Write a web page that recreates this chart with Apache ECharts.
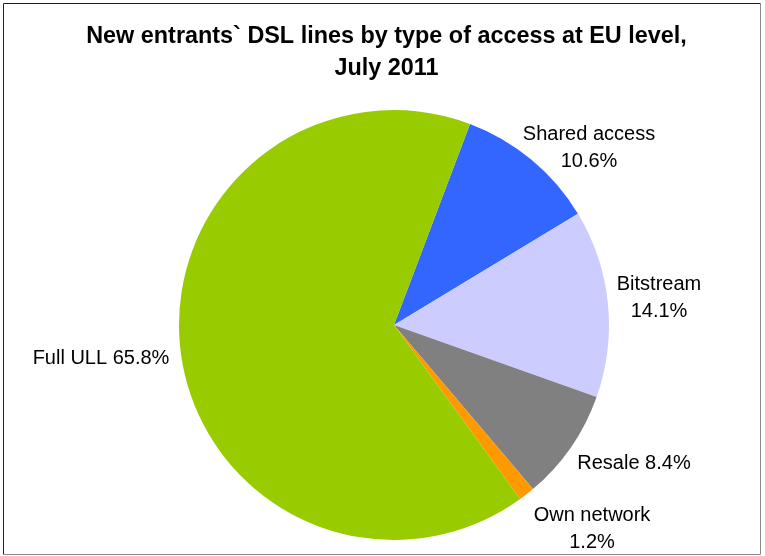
<!DOCTYPE html>
<html>
<head>
<meta charset="utf-8">
<script src="https://cdn.jsdelivr.net/npm/echarts@6/dist/echarts.min.js"></script>
<style>
  html, body { margin: 0; padding: 0; background: #fff; }
  #chart { width: 765px; height: 556px; }
</style>
</head>
<body>
<div id="chart"></div>
<script>
// Access types, clockwise from the top of the pie
const categories = ['Shared access', 'Bitstream', 'Resale', 'Own network', 'Full ULL'];
// Share of new entrants' DSL lines (%)
const shares = [10.6, 14.1, 8.4, 1.2, 65.8];
// Whether the label puts the percentage on its own line
const labelTwoLines = [true, true, false, true, false];
const sliceColors = ['#3366FF', '#CCCCFF', '#808080', '#FF9900', '#99CC00'];

// Label anchor points (block centres), in pixels
const labelAnchors = [
  [589, 148],
  [659, 298],
  [634, 463],
  [592, 529],
  [101, 358]
];

const chart = echarts.init(document.getElementById('chart'), null, { renderer: 'canvas' });

chart.setOption({
  backgroundColor: '#ffffff',
  animation: false,
  title: {
    text: 'New entrants` DSL lines by type of access at EU level,\nJuly 2011',
    left: 386.5,
    top: 21,
    textAlign: 'center',
    padding: 0,
    textStyle: {
      fontFamily: 'Liberation Sans, Arial, sans-serif',
      fontWeight: 'bold',
      fontSize: 23.4,
      lineHeight: 32,
      color: '#000'
    }
  },
  graphic: [
    { type: 'line', shape: { x1: 3.5, y1: 3.5, x2: 760.5, y2: 3.5 }, style: { stroke: '#222', lineWidth: 1 } },
    { type: 'line', shape: { x1: 3.5, y1: 3.5, x2: 3.5, y2: 554.5 }, style: { stroke: '#222', lineWidth: 1 } },
    { type: 'line', shape: { x1: 760.5, y1: 3.5, x2: 760.5, y2: 554.5 }, style: { stroke: '#8a8a8a', lineWidth: 1 } },
    { type: 'line', shape: { x1: 3.5, y1: 554.5, x2: 760.5, y2: 554.5 }, style: { stroke: '#8a8a8a', lineWidth: 1 } }
  ],
  series: [{
    type: 'pie',
    center: [394, 325],
    radius: 215,
    startAngle: 69.3,
    clockwise: true,
    avoidLabelOverlap: false,
    silent: true,
    itemStyle: { borderWidth: 0 },
    label: {
      show: true,
      position: 'outside',
      fontFamily: 'Liberation Sans, Arial, sans-serif',
      fontSize: 20,
      lineHeight: 27,
      color: '#000',
      align: 'center',
      formatter: function (p) {
        const sep = labelTwoLines[p.dataIndex] ? '\n' : ' ';
        return p.name + sep + p.value.toFixed(1) + '%';
      }
    },
    labelLine: { show: false },
    labelLayout: function (p) {
      const a = labelAnchors[p.dataIndex];
      return { x: a[0], y: a[1], align: 'center', verticalAlign: 'middle' };
    },
    data: categories.map(function (name, i) {
      return { name: name, value: shares[i], itemStyle: { color: sliceColors[i] } };
    })
  }]
});
</script>
</body>
</html>
